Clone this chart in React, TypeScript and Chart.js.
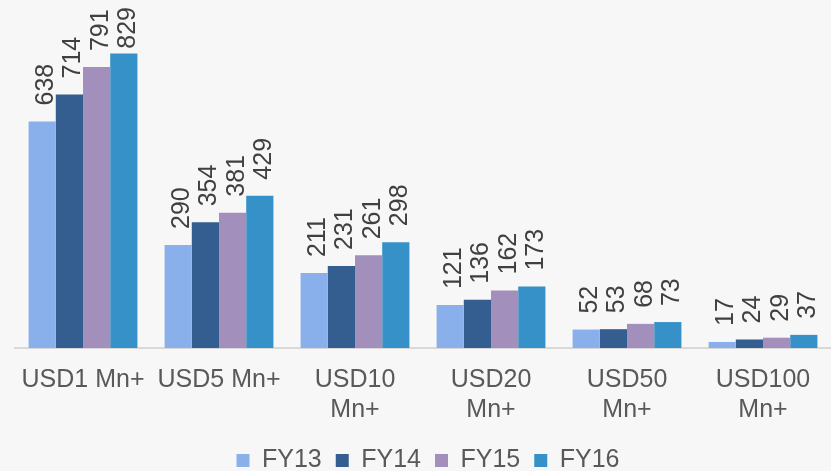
import React, { useEffect, useRef } from "react";
import { Chart, registerables } from "chart.js";

Chart.register(...registerables);

const categories: (string | string[])[] = [
  "USD1 Mn+",
  "USD5 Mn+",
  ["USD10", "Mn+"],
  ["USD20", "Mn+"],
  ["USD50", "Mn+"],
  ["USD100", "Mn+"],
];
const seriesNames = ["FY13", "FY14", "FY15", "FY16"];
const fy13 = [638, 290, 211, 121, 52, 17];
const fy14 = [714, 354, 231, 136, 53, 24];
const fy15 = [791, 381, 261, 162, 68, 29];
const fy16 = [829, 429, 298, 173, 73, 37];
const seriesColors = ["#8ab0ec", "#345e90", "#a38fbc", "#3591c7"];

const FONT = '"Liberation Sans", Arial, sans-serif';

const valueLabels = {
  id: "valueLabels",
  afterDatasetsDraw(chart: any) {
    const ctx = chart.ctx;
    ctx.save();
    ctx.font = `25px ${FONT}`;
    ctx.fillStyle = "#404040";
    ctx.textAlign = "left";
    ctx.textBaseline = "alphabetic";
    chart.data.datasets.forEach((ds: any, i: number) => {
      const meta = chart.getDatasetMeta(i);
      meta.data.forEach((bar: any, j: number) => {
        const text = String(ds.data[j]);
        const w = ctx.measureText(text).width;
        const y = Math.max(bar.y - 16, 7 + w);
        ctx.save();
        ctx.translate(bar.x, y);
        ctx.rotate(-Math.PI / 2);
        ctx.fillText(text, 0, 11);
        ctx.restore();
      });
    });
    ctx.restore();
  },
};

const legendShift = {
  id: "legendShift",
  afterLayout(chart: any) {
    if (chart.legend) {
      chart.legend.left += 5;
      chart.legend.right += 5;
    }
  },
};

export default function App() {
  const ref = useRef<HTMLCanvasElement | null>(null);
  useEffect(() => {
    if (!ref.current) return;
    const all = [fy13, fy14, fy15, fy16];
    const chart = new Chart(ref.current, {
      type: "bar",
      data: {
        labels: categories,
        datasets: all.map((d, i) => ({
          label: seriesNames[i],
          data: d,
          backgroundColor: seriesColors[i],
          borderWidth: 0,
          barPercentage: 1,
          categoryPercentage: 0.8,
        })),
      },
      options: {
        responsive: false,
        animation: false,
        layout: { padding: { left: 15, right: 0, top: 0, bottom: -12 } },
        scales: {
          x: {
            grid: { display: false, drawTicks: false },
            border: { display: true, color: "#d9d9d9", width: 2 },
            ticks: {
              color: "#595959",
              font: { family: FONT, size: 25, lineHeight: 1.2 },
              padding: 17,
              maxRotation: 0,
              autoSkip: false,
            },
            afterFit: (scale: any) => {
              scale.height = 86;
            },
          },
          y: {
            display: false,
            min: 0,
            max: 980,
          },
        },
        plugins: {
          tooltip: { enabled: false },
          legend: {
            position: "bottom",
            labels: {
              color: "#595959",
              font: { family: FONT, size: 25 },
              boxWidth: 13,
              boxHeight: 13,
              padding: 14,
            },
          },
        },
      },
      plugins: [valueLabels, legendShift],
    } as any);
    return () => chart.destroy();
  }, []);
  return (
    <div
      style={{
        position: "fixed",
        left: 0,
        top: 0,
        width: 831,
        height: 471,
        background: "#f7f7f7",
      }}
    >
      <canvas ref={ref} width={831} height={471} />
    </div>
  );
}
